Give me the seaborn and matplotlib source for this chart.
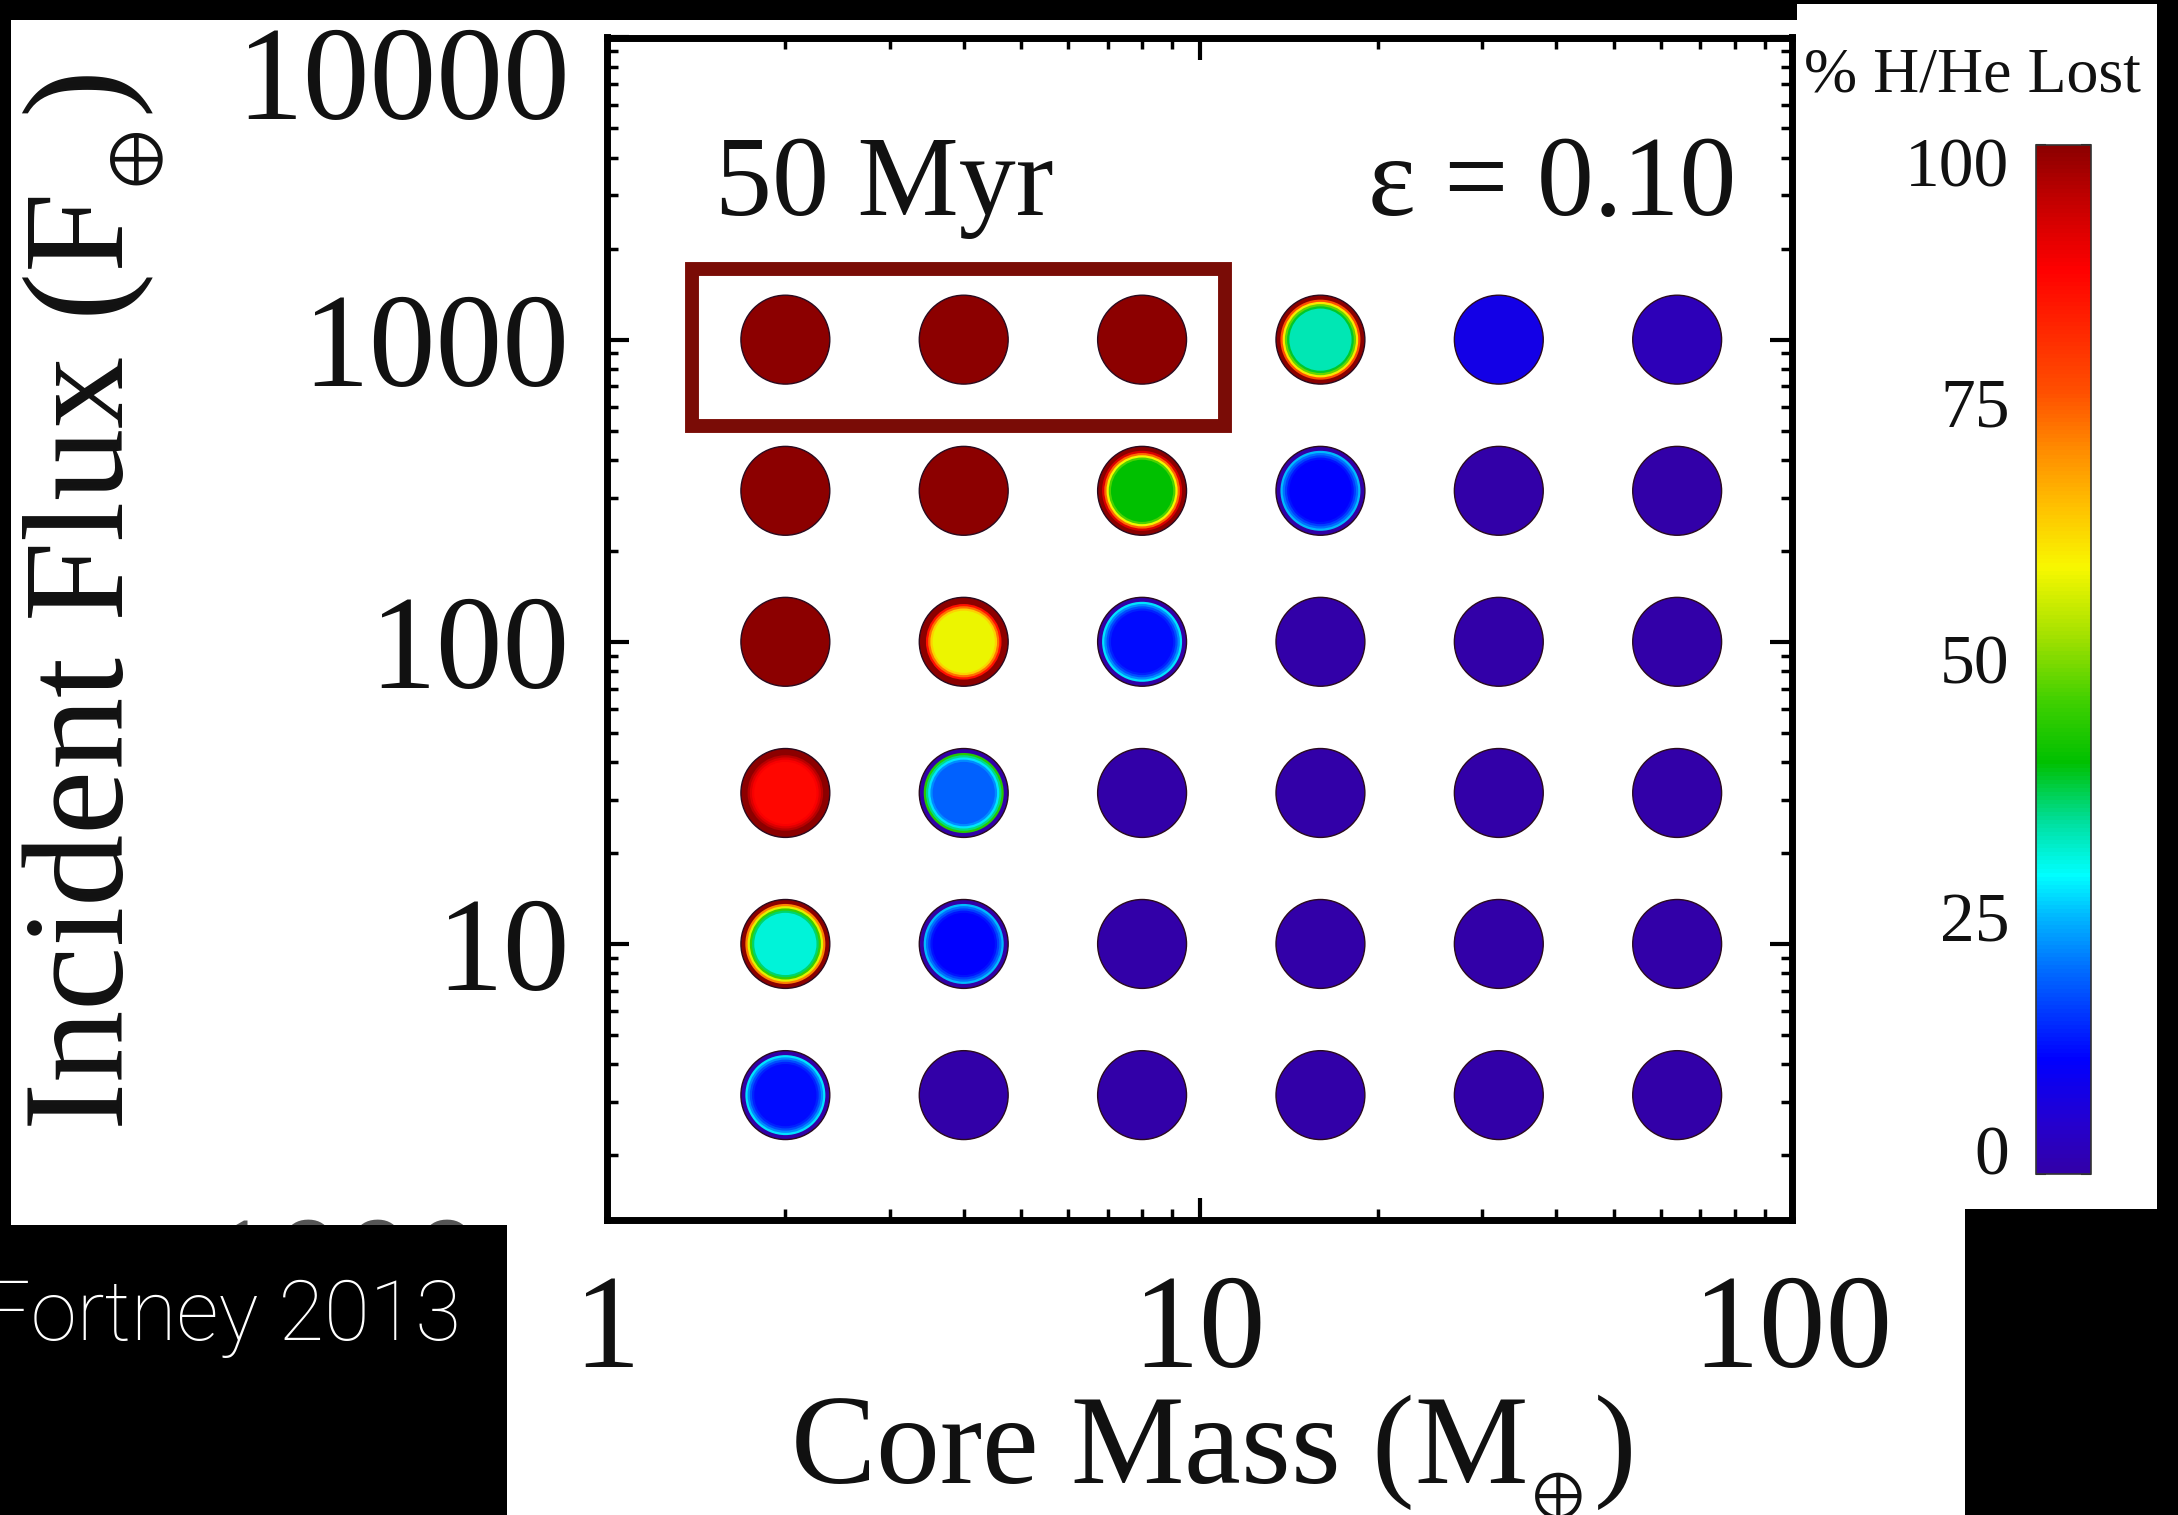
import numpy as np
import pandas as pd
import matplotlib
matplotlib.use("Agg")
import matplotlib.pyplot as plt
import seaborn as sns
from matplotlib.colors import LinearSegmentedColormap, Normalize
from matplotlib.patches import Rectangle
from matplotlib.ticker import FixedLocator, LogLocator, NullFormatter, MultipleLocator
from matplotlib.transforms import ScaledTranslation
from matplotlib import cm

# ---- data -------------------------------------------------------------
core_mass = [2, 4, 8, 16, 32, 64]                 # Earth masses
flux_levels = [1000, 316, 100, 31.6, 10, 3.16]    # Earth fluxes

# percent of H/He envelope lost, one list per flux level (columns follow core_mass)
lost_f1000 = [100, 100, 100, 33, 8, 2]
lost_f316 = [100, 100, 40, 11, 0, 0]
lost_f100 = [100, 58, 12, 0, 0, 0]
lost_f32 = [87, 19, 0, 0, 0, 0]
lost_f10 = [31, 11, 0, 0, 0, 0]
lost_f3 = [12, 0, 0, 0, 0, 0]

x_ticks = [1, 10, 100]
x_tick_labels = ["1", "10", "100"]
y_ticks = [10, 100, 1000, 10000]
y_tick_labels = ["10", "100", "1000", "10000"]
cbar_ticks = [0, 25, 50, 75, 100]
cbar_tick_labels = ["0", "25", "50", "75", "100"]

# ---- style ------------------------------------------------------------
sns.set_theme(style="white")
plt.rcParams["font.family"] = ["Liberation Serif", "DejaVu Serif"]
plt.rcParams["mathtext.fontset"] = "stix"

W, H = 2178, 1515
fig = plt.figure(figsize=(W / 100, H / 100), dpi=100, facecolor="black")


def fx(px):
    return px / W


def fy(py):
    return 1 - py / H


def frect(x0, y0, x1, y1, **kw):
    """Rectangle in figure pixels (top-left origin)."""
    return Rectangle((fx(x0), fy(y1)), fx(x1) - fx(x0), fy(y0) - fy(y1),
                     transform=fig.transFigure, **kw)


def nudge(label, dy_px):
    """Shift a tick label vertically by a number of pixels."""
    label.set_transform(label.get_transform()
                        + ScaledTranslation(0, dy_px / 100, fig.dpi_scale_trans))


# white page behind the plot
fig.add_artist(frect(11, 20, 1965, 1515, facecolor="white", edgecolor="none", zorder=-10))

# rainbow colour table of the loss fraction
cmap = LinearSegmentedColormap.from_list("loss", [
    (0.00, "#3200a8"), (0.05, "#2400d0"), (0.11, "#0000ff"), (0.20, "#0070ff"),
    (0.25, "#00b8ff"), (0.29, "#00ffff"), (0.34, "#00e0a0"), (0.40, "#00c000"),
    (0.46, "#40d000"), (0.52, "#a0e000"), (0.59, "#f8f800"), (0.65, "#ffc000"),
    (0.70, "#ff9000"), (0.76, "#ff5000"), (0.88, "#ff0000"), (0.95, "#c00000"),
    (1.00, "#8c0000")])
norm = Normalize(0, 100)

# ---- main panel -------------------------------------------------------
ax = fig.add_axes([fx(607), fy(1220), fx(1792) - fx(607), fy(37.5) - fy(1220)])
ax.set_facecolor("white")
ax.set_xscale("log")
ax.set_yscale("log")
ax.set_xlim(1, 100)
ax.set_ylim(1.22, 10000)

rows = [lost_f1000, lost_f316, lost_f100, lost_f32, lost_f10, lost_f3]
grid = pd.DataFrame([(m, f, v) for f, row in zip(flux_levels, rows)
                     for m, v in zip(core_mass, row)],
                    columns=["mass", "flux", "lost"])


def shading(c):
    """Concentric shading of one model point: (relative radius, colour value)."""
    if c < 10 or c >= 100:
        return [(1.0, c)]
    rim = 100 if c >= 25 else 0
    span = min(100 - c, 1.3 * c)
    out = [(1.0, rim)]
    for r in np.linspace(0.90, 0.70, 5):
        t = (r - 0.70) / 0.20
        out.append((round(r, 3), c + span * t ** 1.5))
    return out


layers = pd.DataFrame([(p.mass, p.flux, r, v) for p in grid.itertuples()
                       for r, v in shading(p.lost)],
                      columns=["mass", "flux", "r", "value"])

DOT = 64  # marker diameter in points
for r in sorted(layers["r"].unique(), reverse=True):
    sub = layers[layers["r"] == r]
    outer = r >= 1.0
    sns.scatterplot(data=sub, x="mass", y="flux", hue="value", palette=cmap,
                    hue_norm=(0, 100), s=(DOT * r) ** 2, marker="o",
                    linewidth=1.0 if outer else 0,
                    edgecolor="#2a0a1e" if outer else "none",
                    legend=False, ax=ax, zorder=3)

ax.set_xlabel("")
ax.set_ylabel("")

# highlight box around the fully stripped low-mass cores at the highest flux
bx0, bx1 = core_mass[0] / 1.44, core_mass[2] * 1.38
by0, by1 = flux_levels[0] / 1.93, flux_levels[0] * 1.71
ax.add_patch(Rectangle((bx0, by0), bx1 - bx0, by1 - by0, fill=False,
                       edgecolor="#7a0c06", linewidth=10, zorder=4, clip_on=False))

ax.text(0.091, 0.850, "50 Myr", transform=ax.transAxes, fontsize=82,
        ha="left", va="baseline", color="#111111")
ax.text(0.953, 0.850, "ε = 0.10", transform=ax.transAxes, fontsize=82,
        ha="right", va="baseline", color="#111111")

# axes frame and ticks
for s in ax.spines.values():
    s.set_visible(True)
    s.set_color("black")
    s.set_linewidth(5)
ax.xaxis.set_major_locator(FixedLocator(x_ticks))
ax.set_xticklabels(x_tick_labels)
ax.yaxis.set_major_locator(FixedLocator(y_ticks))
ax.set_yticklabels(y_tick_labels)
ax.xaxis.set_minor_locator(LogLocator(base=10, subs=np.arange(2, 10)))
ax.yaxis.set_minor_locator(LogLocator(base=10, subs=np.arange(2, 10)))
ax.xaxis.set_minor_formatter(NullFormatter())
ax.yaxis.set_minor_formatter(NullFormatter())
ax.tick_params(which="both", direction="in", top=True, bottom=True,
               left=True, right=True, color="black")
ax.tick_params(which="major", length=16, width=3)
ax.tick_params(which="minor", length=8, width=2.5)
ax.tick_params(axis="x", which="major", labelsize=96, pad=39, labelcolor="#111111")
ax.tick_params(axis="y", which="major", labelsize=96, pad=27, labelcolor="#111111")
# keep the topmost flux label inside the frame
nudge(ax.yaxis.get_major_ticks()[-1].label1, -35)

ax.set_xlabel(r"Core Mass (M$_{_{\oplus}}$)", fontsize=92, color="#111111")
ax.xaxis.set_label_coords(0.51, -0.146)
ax.set_ylabel(r"Incident Flux (F$_{_{\oplus}}$)", fontsize=104, color="#111111")
ax.yaxis.set_label_coords(-0.371, 0.522)

# ---- colour bar panel --------------------------------------------------
fig.add_artist(frect(1797, 4, 2157, 1209, facecolor="white", edgecolor="none", zorder=1))
cax = fig.add_axes([fx(2036), fy(1174), fx(2091) - fx(2036), fy(145) - fy(1174)])
cax.set_zorder(2)
sm = cm.ScalarMappable(norm=norm, cmap=cmap)
cb = fig.colorbar(sm, cax=cax, ticks=cbar_ticks)
cb.set_ticklabels(cbar_tick_labels)
cb.outline.set_linewidth(1.2)
cb.outline.set_edgecolor("#333333")
cax.yaxis.set_minor_locator(MultipleLocator(12.5))
cax.tick_params(axis="y", which="both", direction="in", left=True, right=True,
                labelleft=True, labelright=False, length=7, width=1.5,
                color="#222222")
cax.tick_params(axis="y", which="major", labelsize=50, pad=19, labelcolor="#111111")
cticks = cax.yaxis.get_major_ticks()
nudge(cticks[0].label1, 24)
nudge(cticks[-1].label1, -17)
fig.text(fx(1972), fy(76), "% H/He Lost", fontsize=46, ha="center", va="center",
         color="#111111", zorder=3)

# ---- page trim ---------------------------------------------------------
fig.text(fx(482), fy(1216), "1000", fontsize=100, ha="right", va="top",
         color="#555555", zorder=4)
fig.add_artist(frect(0, 0, 1797, 20, facecolor="black", edgecolor="none", zorder=5))
fig.add_artist(frect(0, 0, 11, 1225, facecolor="black", edgecolor="none", zorder=5))
fig.add_artist(frect(0, 1225, 507, 1515, facecolor="black", edgecolor="none", zorder=5))
fig.text(fx(461), fy(1340), "Fortney 2013", fontsize=60, ha="right", va="baseline",
         color="white", family=["Roboto", "DejaVu Sans"], fontweight="light", zorder=6)

fig.savefig("out.png", dpi=100, facecolor="black")
